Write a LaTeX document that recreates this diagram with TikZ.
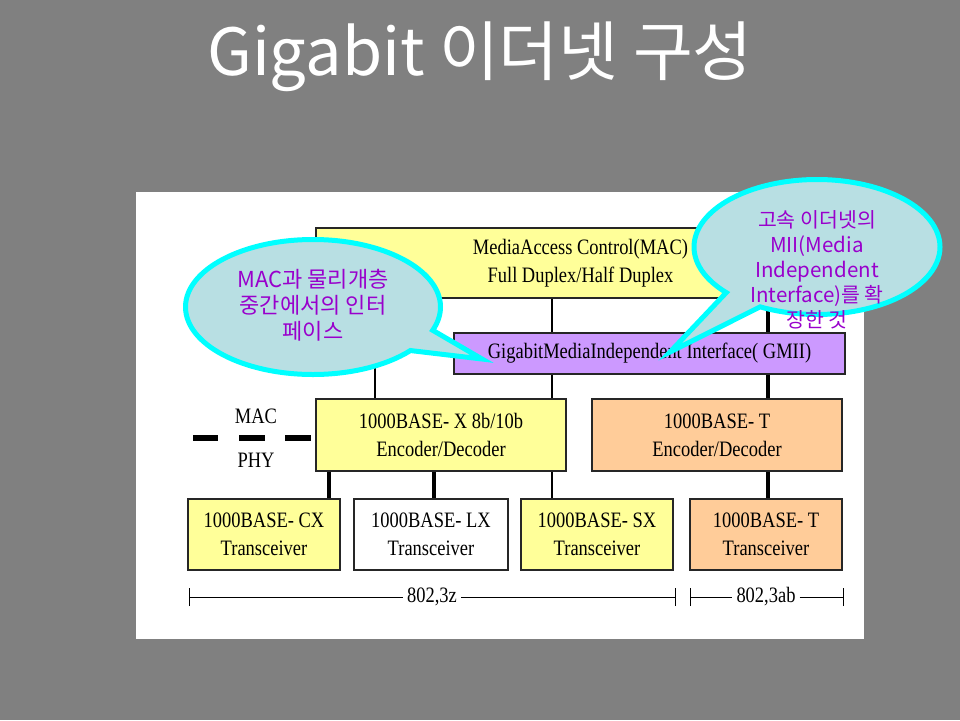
\documentclass[tikz,border=0pt]{standalone}
\usepackage{fontspec}
\setmainfont{Liberation Serif}
\newfontfamily\boxfont{Liberation Serif}[FakeStretch=0.84]
\newfontfamily\kr{Noto Sans CJK KR}
\usetikzlibrary{shapes.callouts}
\definecolor{bggrey}{HTML}{808080}
\definecolor{cfill}{HTML}{B8DFE3}
\definecolor{cborder}{HTML}{00FFFF}
\definecolor{ctext}{HTML}{9900CC}
\definecolor{yel}{HTML}{FFFF99}
\definecolor{peach}{HTML}{FFCC99}
\definecolor{lilac}{HTML}{CC99FF}
\tikzset{
  box/.style={draw=black!85, line width=1.5pt, inner sep=0pt, align=center,
    font=\boxfont\fontsize{22}{28}\selectfont},
  thinl/.style={draw=black, line width=1.6pt},
  thickl/.style={draw=black, line width=4.5pt},
  diml/.style={draw=black, line width=1pt},
  dimtxt/.style={font=\boxfont\fontsize{22}{26}\selectfont, inner sep=0pt},
  bubble/.style={ellipse callout, draw=cborder, fill=cfill, line width=5pt,
    inner sep=0pt, minimum width=255pt, minimum height=135pt, callout pointer arc=20},
  bubtxt/.style={text=ctext, align=center, inner sep=0pt},
  ttl/.style={font=\kr\fontsize{65}{75}\selectfont, inner sep=0pt}
}
\begin{document}
\begin{tikzpicture}[x=1pt,y=-1pt]
\useasboundingbox (0,0) rectangle (960,720);
\fill[bggrey] (0,0) rectangle (960,720);
\fill[white] (136,192) rectangle (864,639);

% title
\node[ttl, text=white] (title) at (480,57) {Gigabit 이더넷 구성};

% boxes
\node[box, fill=yel, minimum width=529pt, minimum height=70pt] (MAC) at (580.5,263)
  {MediaAccess Control(MAC)\\Full Duplex/Half Duplex};
\node[box, fill=lilac, minimum width=391pt, minimum height=41pt] (GMII) at (649.5,353.5)
  {GigabitMediaIndependent Interface( GMII)};
\node[box, fill=yel, minimum width=250pt, minimum height=72pt] (X) at (441,435)
  {1000BASE- X 8b/10b\\Encoder/Decoder};
\node[box, fill=peach, minimum width=250pt, minimum height=72pt] (TE) at (717,435)
  {1000BASE- T\\Encoder/Decoder};
\node[box, fill=yel, minimum width=152pt, minimum height=71pt] (CX) at (264,534.5)
  {1000BASE- CX\\Transceiver};
\node[box, fill=white, minimum width=154pt, minimum height=71pt] (LX) at (431,534.5)
  {1000BASE- LX\\Transceiver};
\node[box, fill=yel, minimum width=152pt, minimum height=71pt] (SX) at (597,534.5)
  {1000BASE- SX\\Transceiver};
\node[box, fill=peach, minimum width=152pt, minimum height=71pt] (TT) at (766,534.5)
  {1000BASE- T\\Transceiver};

% connectors
\draw[thinl] (375,0 |- MAC.south) -- (375,0 |- X.north);
\draw[thinl] (552,0 |- MAC.south) -- (552,0 |- GMII.north);
\draw[thickl] (768,0 |- MAC.south) -- (768,0 |- GMII.north);
\draw[thinl] (552,0 |- GMII.south) -- (552,0 |- X.north);
\draw[thickl] (768,0 |- GMII.south) -- (768,0 |- TE.north);
\draw[thickl] (329,0 |- X.south) -- (329,0 |- CX.north);
\draw[thickl] (434,0 |- X.south) -- (434,0 |- LX.north);
\draw[thinl] (552,0 |- X.south) -- (552,0 |- SX.north);
\draw[thickl] (768,0 |- TE.south) -- (768,0 |- TT.north);

% MAC / PHY divider
\coordinate (d1a) at (193,438); \coordinate (d1b) at (218,438);
\coordinate (d2a) at (239,438); \coordinate (d2b) at (265,438);
\coordinate (d3a) at (285,438); \coordinate (d3b) at (311,438);
\draw[line width=6.5pt] (d1a) -- (d1b);
\draw[line width=6.5pt] (d2a) -- (d2b);
\draw[line width=6.5pt] (d3a) -- (d3b);
\node[dimtxt] (mactxt) at (256,416) {MAC};
\node[dimtxt] (phytxt) at (256,460) {PHY};

% dimension lines
\node[dimtxt, fill=white, inner xsep=4pt] (z) at (432,597) {802,3z};
\coordinate (zl) at (189,597); \coordinate (zr) at (675,597);
\draw[diml] (zl) -- (z.west);
\draw[diml] (z.east) -- (zr);
\draw[diml] ([yshift=-9pt]zl) -- ([yshift=9pt]zl);
\draw[diml] ([yshift=-9pt]zr) -- ([yshift=9pt]zr);
\node[dimtxt, fill=white, inner xsep=4pt] (ab) at (766,597) {802,3ab};
\coordinate (al) at (690,597); \coordinate (ar) at (843,597);
\draw[diml] (al) -- (ab.west);
\draw[diml] (ab.east) -- (ar);
\draw[diml] ([yshift=-9pt]al) -- ([yshift=9pt]al);
\draw[diml] ([yshift=-9pt]ar) -- ([yshift=9pt]ar);

% callouts
\node[bubble, callout absolute pointer={(482,359)}] (c1) at (313,307) {};
\node[bubtxt, font=\kr\fontsize{22}{26}\selectfont] (c1t) at (313,305)
  {MAC과 물리개층\\중간에서의 인터\\페이스};
\node[bubble, minimum width=246pt, callout absolute pointer={(670,352)}] (c2) at (817,247) {};
\node[bubtxt, font=\kr\fontsize{20.5}{25}\selectfont] (c2t) at (817,270)
  {고속 이더넷의\\MII(Media\\Independent\\Interface)를 확\\장한 것};
\end{tikzpicture}
\end{document}
